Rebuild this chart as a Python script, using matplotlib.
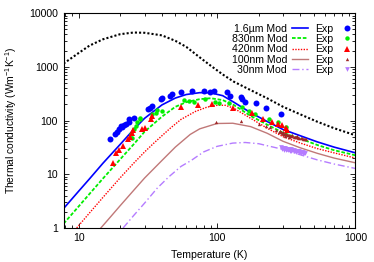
import matplotlib
matplotlib.use("Agg")
import matplotlib.pyplot as plt
from matplotlib.ticker import LogLocator, NullFormatter

plt.rcParams['font.family'] = ['Liberation Sans', 'DejaVu Sans']
plt.rcParams['mathtext.fontset'] = 'custom'
plt.rcParams['mathtext.rm'] = 'Liberation Sans'

# model curves
T_mod = [7.8, 10, 12, 15, 20, 25, 30, 40, 50, 60, 75, 90, 110, 132, 175, 230, 300, 400, 530, 700, 1000]
k_bulk = [1150, 1800, 2480, 3250, 4050, 4350, 4300, 3850, 3050, 2350, 1500, 1050, 720, 530, 368, 260, 180, 130, 95, 72, 53]
k_1600 = [2.3, 4.8, 8.2, 16, 36, 68, 110, 195, 262, 305, 330, 328, 290, 220, 140, 96, 68, 52, 40, 32, 25]
k_830 = [1.2, 2.5, 4.3, 8.3, 19, 36, 62, 118, 180, 220, 250, 260, 240, 195, 122, 84, 59, 46, 35, 28, 22.5]

T_420 = [9.7, 12, 15, 20, 25, 30, 35, 40, 46, 55, 70, 85, 100, 115, 132, 175, 230, 300, 400, 530, 700, 1000]
k_420 = [1.0, 1.9, 3.7, 8.6, 16, 26, 38, 52, 72, 105, 148, 178, 192, 192, 170, 110, 72, 50, 38, 30, 25, 20]

T_100 = [14.5, 17, 20, 25, 30, 40, 50, 64, 75, 100, 130, 175, 230, 300, 400, 530, 700, 1000]
k_100 = [1.0, 1.6, 2.6, 5.0, 8.5, 18, 32, 55, 70, 88, 89, 77, 58, 41, 31, 24.5, 20, 16.3]

T_30 = [21, 25, 30, 37, 45, 55, 65, 80, 100, 130, 160, 200, 300, 400, 530, 700, 1000]
k_30 = [1.0, 1.7, 2.9, 5.5, 9, 14, 18, 26, 33, 38, 39, 37, 29, 23, 18.5, 15.5, 12.8]

# experimental points
T_exp1600 = [17.0, 18.2, 19.0, 19.5, 20.3, 20.7, 21.2, 22.2, 23.1, 23.3, 25.1, 32.0, 32.6, 34.0, 39.5, 40, 46, 47.5, 54.5,
             66, 80, 89.5, 95, 118, 125, 148, 152, 158, 190, 224, 292]
k_exp1600 = [46, 57, 62, 71, 80, 76, 82, 88, 105, 95, 113, 164, 168, 188, 257, 265, 289, 306, 343,
             360, 352, 343, 350, 335, 289, 276, 247, 223, 208, 168, 135]

T_exp830 = [24.1, 24.4, 25.1, 26.0, 26.5, 27.7, 28, 34, 36, 37, 40, 57.6, 62.5, 68, 82.5, 96, 103.5, 122, 152, 170, 187, 237, 277, 313]
k_exp830 = [57, 47, 71, 80, 95, 112, 109, 135, 141, 156, 150, 240, 235, 223, 257, 223, 208, 208, 180, 151, 130, 105, 92, 76]

T_exp420 = [17.8, 18.8, 19.5, 21, 22.7, 23.5, 24.4, 24.8, 28.8, 30.1, 33.1, 34, 55.4, 72.5, 92, 130, 178, 216, 250, 275, 295, 313, 320]
k_exp420 = [15.9, 24.4, 28, 33, 45, 50, 59, 66, 71, 73, 109, 122, 180, 194, 200, 168, 141, 109, 92, 88, 81, 73, 66]

T_exp100 = [99, 150, 200, 224, 243, 268, 280, 285, 290, 295, 300, 300, 305, 310, 310, 315, 320, 326, 330, 332, 338, 344,
            350, 350, 357, 364, 371, 378, 380, 386, 394, 402, 410, 418, 426, 434, 442]
k_exp100 = [95, 100, 88, 78, 75, 66, 62, 64, 60, 58, 57, 60, 56, 56, 52, 55, 54, 54, 50, 53, 52, 52,
            51, 54, 50, 50, 49, 49, 51, 48, 48, 47, 47, 46, 46, 45, 45]

T_exp30 = [292, 298, 304, 310, 316, 322, 328, 334, 340, 347, 354, 361, 368, 376, 384, 392, 400, 408, 417, 426, 435,
           295, 305, 315, 325, 335, 345, 360, 375, 390, 405, 420]
k_exp30 = [32, 31, 31, 30.5, 30, 30, 29.5, 29, 29, 28.5, 28, 28, 27.5, 27, 27, 26.5, 26, 26, 25.5, 25, 25,
           29, 28.5, 28, 28, 27.5, 27, 26.5, 26, 25.5, 25, 24.5]

blue = '#0000ff'
green = '#00ee00'
red = '#ff0000'
brown_line = '#c07878'
brown_pts = '#a02828'
purple = '#b57cff'

fig = plt.figure(figsize=(3.74, 2.62), dpi=100)
ax = fig.add_axes([0.170, 0.130, 0.7805, 0.820])

ax.plot(T_mod, k_bulk, color='black', lw=1.5, ls=(0, (1, 1)))
l1, = ax.plot(T_mod, k_1600, color=blue, lw=1.2, ls='-', label='1.6\u00b5m Mod')
l2, = ax.plot(T_mod, k_830, color=green, lw=1.3, ls=(0, (2, 1)), label='830nm Mod')
l3, = ax.plot(T_420, k_420, color=red, lw=1.0, ls=(0, (1, 1)), label='420nm Mod')
l4, = ax.plot(T_100, k_100, color=brown_line, lw=1.0, ls='-', label='100nm Mod')
l5, = ax.plot(T_30, k_30, color=purple, lw=1.0, ls=(0, (5, 2, 1, 2)), label='30nm Mod')

p1, = ax.plot(T_exp1600, k_exp1600, 'o', color=blue, ms=4.3, mew=0, ls='none', label='Exp')
p2, = ax.plot(T_exp830, k_exp830, 'o', color=green, ms=3.2, mew=0, ls='none', label='Exp')
p3, = ax.plot(T_exp420, k_exp420, '^', color=red, ms=4.3, mew=0, ls='none', label='Exp')
p4, = ax.plot(T_exp100, k_exp100, '^', color=brown_pts, ms=2.4, mew=0, ls='none', label='Exp')
p5, = ax.plot(T_exp30, k_exp30, 'v', color=purple, ms=3.4, mew=0, ls='none', label='Exp')

ax.set_xscale('log')
ax.set_yscale('log')
ax.set_xlim(7.8, 1000)
ax.set_ylim(1, 10000)
ax.set_xticks([10, 100, 1000])
ax.set_xticklabels(['10', '100', '1000'])
ax.set_yticks([1, 10, 100, 1000, 10000])
ax.set_yticklabels(['1', '10', '100', '1000', '10000'])
ax.xaxis.set_minor_locator(LogLocator(base=10, subs=range(2, 10)))
ax.yaxis.set_minor_locator(LogLocator(base=10, subs=range(2, 10)))
ax.xaxis.set_minor_formatter(NullFormatter())
ax.yaxis.set_minor_formatter(NullFormatter())
ax.tick_params(which='both', direction='in', top=True, right=True, labelsize=7.6, width=0.6)
ax.tick_params(which='major', length=3.5, pad=4)
ax.tick_params(which='minor', length=2)
for s in ax.spines.values():
    s.set_linewidth(0.8)

ax.set_xlabel('Temperature (K)', fontsize=7.6, labelpad=5)
ax.set_ylabel('Thermal conductivity (Wm$^{\\mathregular{-1}}$K$^{\\mathregular{-1}}$)', fontsize=7.4, labelpad=7)

handles = [l1, l2, l3, l4, l5, p1, p2, p3, p4, p5]
ax.legend(handles, [h.get_label() for h in handles],
          ncol=2, markerfirst=False, frameon=False, fontsize=7.6, loc='upper right',
          bbox_to_anchor=(1.0, 0.955), borderaxespad=0.0, borderpad=0.1, handlelength=1.5,
          handletextpad=0.5, columnspacing=0.66, labelspacing=0.03)

fig.savefig('out.png', dpi=100)
